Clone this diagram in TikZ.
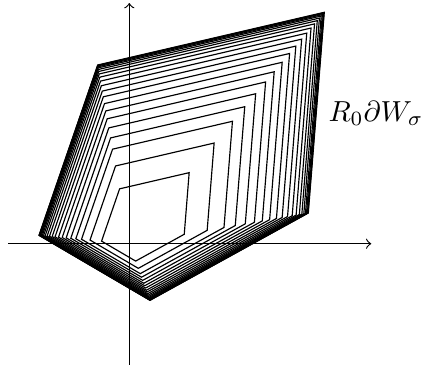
\documentclass[tikz,border=0pt]{standalone}
\begin{document}
\begin{tikzpicture}[x=0.345pt,y=0.345pt,
  poly/.style={black, line width=0.4pt},
  axis/.style={->, black, line width=0.4pt}]
\useasboundingbox (-129.3,-122.3) rectangle (293.7,243.7);
\draw[axis] (-121,0) -- (242,0);
\draw[axis] (0,-121) -- (0,240.7);
\foreach \s in {0.307,0.435,0.529,0.592,0.648,0.699,0.743,0.784,0.822,0.854,0.884,0.910,0.932,0.950,0.964,0.975,0.984,0.990,0.995,0.998,1.0}
  \draw[poly, scale=\s] (-90.3,8.4) -- (-31.6,178.7) -- (195,231.4) -- (179,30.7) -- (20.7,-56.6) -- cycle;
\node[anchor=base west, inner sep=0pt] (lab) at (198.7,122.7) {$R_0\partial W_\sigma$};
\end{tikzpicture}
\end{document}
